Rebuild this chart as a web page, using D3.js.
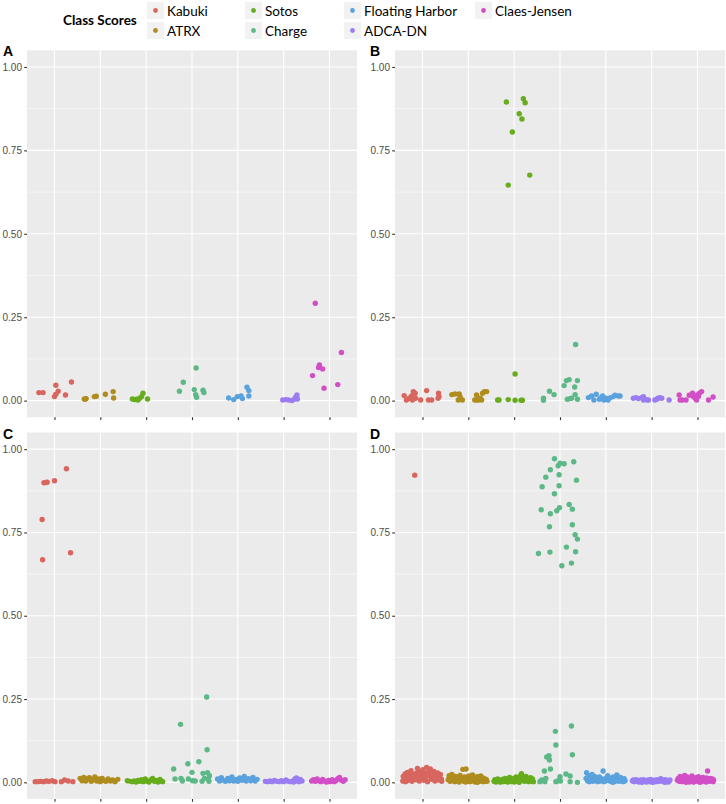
<!DOCTYPE html>
<html><head><meta charset="utf-8">
<script src="https://cdn.jsdelivr.net/npm/d3@7"></script>
<style>body{margin:0;background:#fff}svg{display:block}</style>
</head><body><div id="chart"></div>
<script>
// ---------- DATA ----------
const classes = ["Kabuki","ATRX","Sotos","Charge","Floating Harbor","ADCA-DN","Claes-Jensen"];
const classColors = ["#D8665E","#AE8C1E","#66AC1C","#5CB886","#5AA2DE","#9B7DF2","#D24EC6"];
const yTicks = [0, 0.25, 0.5, 0.75, 1.0];
const yMinor = [0.125, 0.375, 0.625, 0.875];
const panelLabels = ["A","B","C","D"];
const legendTitle = "Class Scores";

// each point: [jitter (in category units), score]
const aKabuki = [[-0.34,0.024],[-0.25,0.024],[0.03,0.046],[0.00,0.012],[0.03,0.019],[0.08,0.028],[0.24,0.017],[0.37,0.056]];
const aATRX = [[-0.35,0.005],[-0.31,0.006],[-0.13,0.012],[-0.09,0.013],[0.11,0.019],[0.28,0.027],[0.29,0.008],[-0.33,0.004]];
const aSotos = [[-0.30,0.005],[-0.25,0.003],[-0.21,0.004],[-0.18,0.002],[-0.14,0.007],[-0.10,0.012],[-0.07,0.022],[0.03,0.005]];
const aCharge = [[-0.275,0.028],[-0.19,0.055],[0.05,0.033],[0.09,0.098],[0.08,0.018],[0.10,0.010],[0.24,0.031],[0.26,0.024]];
const aFloating = [[-0.20,0.008],[-0.09,0.003],[-0.01,0.012],[0.07,0.014],[0.10,0.006],[0.20,0.040],[0.24,0.030],[0.24,0.014]];
const aADCA = [[-0.02,0.002],[0.05,0.003],[0.11,0.002],[0.18,0.000],[0.23,0.004],[0.26,0.010],[0.29,0.017],[0.30,0.005]];
const aClaes = [[-0.31,0.292],[-0.37,0.075],[-0.24,0.099],[-0.22,0.107],[-0.15,0.095],[-0.12,0.037],[0.18,0.048],[0.26,0.144]];

const bKabuki = [[-0.40,0.015],[-0.35,0.002],[-0.29,0.007],[-0.24,0.014],[-0.20,0.027],[-0.16,0.022],[-0.22,0.002],[-0.15,0.007],[-0.04,0.002],[0.09,0.030],[0.13,0.002],[0.20,0.002],[0.35,0.022],[0.36,0.012],[0.34,0.007]];
const bATRX = [[-0.36,0.018],[-0.29,0.020],[-0.20,0.020],[-0.22,0.002],[-0.13,0.002],[0.14,0.002],[0.18,0.017],[0.22,0.002],[0.29,0.002],[0.31,0.022],[0.35,0.027],[0.40,0.027],[0.26,0.007],[0.18,0.002],[-0.18,0.012]];
const bSotos = [[-0.17,0.895],[0.20,0.905],[0.24,0.893],[0.11,0.860],[0.17,0.844],[-0.04,0.805],[0.34,0.676],[-0.13,0.646],[-0.36,0.002],[-0.33,0.002],[-0.13,0.003],[0.02,0.080],[0.02,0.001],[0.15,0.001],[0.18,0.001]];
const bCharge = [[-0.36,0.007],[-0.36,0.001],[-0.23,0.028],[-0.13,0.018],[0.09,0.045],[0.14,0.060],[0.20,0.063],[0.16,0.004],[0.25,0.007],[0.32,0.041],[0.33,0.018],[0.38,0.060],[0.34,0.168],[0.38,0.004],[0.22,0.006]];
const bFloating = [[-0.38,0.009],[-0.31,0.014],[-0.26,0.002],[-0.21,0.019],[-0.14,0.004],[-0.11,0.009],[-0.07,0.014],[-0.04,0.002],[0.00,0.007],[0.05,0.002],[0.10,0.009],[0.16,0.012],[0.20,0.016],[0.27,0.014],[0.31,0.014]];
const bADCA = [[-0.40,0.007],[-0.34,0.009],[-0.29,0.006],[-0.22,0.009],[-0.18,0.012],[-0.15,0.004],[-0.10,0.002],[-0.07,0.002],[0.07,0.002],[0.11,0.004],[0.14,0.007],[0.18,0.009],[0.22,0.007],[0.38,0.002],[-0.18,0.002]];
const bClaes = [[-0.40,0.017],[-0.38,0.002],[-0.33,0.002],[-0.25,0.002],[-0.18,0.016],[-0.11,0.022],[-0.05,0.007],[-0.02,0.002],[0.00,0.017],[0.04,0.022],[0.09,0.027],[0.02,0.012],[0.24,0.002],[0.34,0.011],[-0.09,0.012]];

const cKabuki = [[-0.27,0.789],[-0.26,0.668],[-0.23,0.899],[-0.18,0.900],[-0.16,0.901],[0.00,0.905],[0.26,0.941],[0.35,0.689],
  [-0.42,0.002],[-0.36,0.002],[-0.30,0.003],[-0.24,0.002],[-0.18,0.004],[-0.12,0.003],[-0.05,0.005],[0.01,0.002],[0.15,0.002],[0.22,0.007],[0.30,0.004],[0.40,0.002]];
const cATRX = [[-0.44,0.012],[-0.40,0.005],[-0.36,0.015],[-0.32,0.004],[-0.28,0.010],[-0.24,0.014],[-0.20,0.003],[-0.16,0.008],[-0.12,0.016],[-0.08,0.004],[-0.04,0.010],[0.00,0.002],[0.04,0.012],[0.08,0.006],[0.12,0.003],[0.17,0.010],[0.22,0.004],[0.27,0.007],[0.32,0.002],[0.38,0.009]];
const cSotos = [[-0.41,0.005],[-0.30,0.002],[-0.26,0.004],[-0.22,0.001],[-0.18,0.006],[-0.14,0.003],[-0.10,0.008],[-0.06,0.002],[-0.02,0.010],[0.02,0.004],[0.06,0.001],[0.10,0.007],[0.14,0.012],[0.18,0.003],[0.22,0.006],[0.26,0.001],[0.30,0.009],[0.33,0.004],[0.36,0.002],[-0.34,0.003]];
const cCharge = [[-0.40,0.040],[-0.37,0.010],[-0.25,0.174],[-0.24,0.012],[-0.21,0.004],[-0.09,0.056],[-0.08,0.010],[0.00,0.030],[0.01,0.005],[0.07,0.004],[0.15,0.062],[0.22,0.003],[0.24,0.027],[0.27,0.012],[0.32,0.256],[0.33,0.098],[0.34,0.029],[0.38,0.020],[0.36,0.010],[0.37,0.003]];
const cFloating = [[-0.44,0.010],[-0.40,0.004],[-0.36,0.014],[-0.32,0.006],[-0.27,0.003],[-0.22,0.012],[-0.18,0.005],[-0.13,0.016],[-0.09,0.004],[-0.05,0.009],[0.00,0.003],[0.04,0.013],[0.09,0.006],[0.14,0.018],[0.18,0.004],[0.23,0.011],[0.28,0.005],[0.33,0.015],[0.38,0.004],[0.42,0.009]];
const cADCA = [[-0.40,0.003],[-0.35,0.002],[-0.30,0.004],[-0.25,0.002],[-0.20,0.006],[-0.15,0.003],[-0.10,0.002],[-0.05,0.005],[0.00,0.002],[0.05,0.007],[0.10,0.003],[0.15,0.002],[0.20,0.004],[0.25,0.011],[0.28,0.013],[0.30,0.005],[0.33,0.002],[0.36,0.009],[0.40,0.004],[0.22,0.001]];
const cClaes = [[-0.39,0.004],[-0.35,0.008],[-0.31,0.003],[-0.27,0.010],[-0.23,0.005],[-0.19,0.002],[-0.15,0.009],[-0.11,0.004],[-0.07,0.001],[-0.02,0.006],[0.02,0.003],[0.06,0.008],[0.10,0.002],[0.14,0.005],[0.18,0.011],[0.22,0.015],[0.26,0.006],[0.30,0.003],[0.34,0.008],[0.00,0.002]];

const dKabuki = [[-0.17,0.922],
  [-0.43,0.004],[-0.42,0.018],[-0.40,0.010],[-0.38,0.025],[-0.37,0.002],[-0.35,0.014],[-0.33,0.030],[-0.31,0.006],[-0.29,0.020],[-0.27,0.012],[-0.25,0.035],[-0.23,0.003],[-0.21,0.024],[-0.19,0.016],[-0.15,0.008],[-0.13,0.028],[-0.11,0.042],[-0.09,0.019],[-0.07,0.004],[-0.05,0.033],[-0.03,0.011],[-0.01,0.023],[0.01,0.038],[0.03,0.006],[0.05,0.027],[0.07,0.015],[0.09,0.045],[0.11,0.002],[0.13,0.031],[0.15,0.020],[0.17,0.040],[0.19,0.009],[0.21,0.025],[0.23,0.014],[0.25,0.033],[0.27,0.004],[0.29,0.022],[0.31,0.012],[0.33,0.028],[0.35,0.007],[0.37,0.019],[0.39,0.024],[0.41,0.010],[0.42,0.003]];
const dATRX = [[-0.44,0.008],[-0.42,0.020],[-0.40,0.003],[-0.38,0.015],[-0.36,0.024],[-0.34,0.006],[-0.32,0.012],[-0.30,0.002],[-0.28,0.018],[-0.26,0.009],[-0.24,0.004],[-0.22,0.014],[-0.20,0.001],[-0.18,0.021],[-0.16,0.007],[-0.14,0.011],[-0.12,0.039],[-0.10,0.003],[-0.08,0.016],[-0.05,0.040],[-0.03,0.010],[-0.01,0.005],[0.01,0.019],[0.03,0.002],[0.05,0.013],[0.07,0.008],[0.09,0.022],[0.11,0.004],[0.13,0.015],[0.15,0.001],[0.17,0.010],[0.19,0.017],[0.21,0.006],[0.23,0.012],[0.25,0.003],[0.27,0.019],[0.29,0.008],[0.31,0.014],[0.33,0.002],[0.35,0.011],[0.37,0.005],[0.39,0.009],[0.41,0.003],[0.20,0.000],[-0.06,0.001]];
const dSotos = [[-0.44,0.003],[-0.42,0.008],[-0.40,0.001],[-0.38,0.005],[-0.36,0.010],[-0.34,0.002],[-0.32,0.006],[-0.30,0.001],[-0.28,0.004],[-0.26,0.009],[-0.24,0.002],[-0.22,0.005],[-0.20,0.012],[-0.18,0.003],[-0.16,0.007],[-0.14,0.001],[-0.12,0.004],[-0.10,0.015],[-0.08,0.002],[-0.06,0.008],[-0.04,0.003],[-0.02,0.011],[0.00,0.001],[0.02,0.006],[0.04,0.016],[0.06,0.003],[0.08,0.009],[0.10,0.002],[0.12,0.013],[0.14,0.020],[0.16,0.026],[0.18,0.007],[0.20,0.015],[0.22,0.003],[0.24,0.010],[0.26,0.018],[0.28,0.005],[0.30,0.012],[0.32,0.002],[0.34,0.008],[0.36,0.014],[0.38,0.004],[0.40,0.010],[0.42,0.002],[0.11,0.000]];
const dCharge = [[-0.12,0.971],[-0.21,0.938],[-0.31,0.916],[-0.39,0.887],[-0.04,0.950],[0.00,0.958],[0.09,0.956],[0.30,0.962],[-0.02,0.923],[0.36,0.907],[-0.02,0.890],[-0.12,0.866],[0.20,0.834],[-0.41,0.818],[-0.01,0.824],[-0.07,0.815],[0.27,0.820],[-0.21,0.806],[-0.23,0.767],[0.27,0.773],[0.33,0.743],[0.38,0.730],[0.14,0.706],[-0.47,0.687],[-0.22,0.691],[0.34,0.692],[0.25,0.658],[0.04,0.650],
  [-0.10,0.153],[0.25,0.169],[-0.09,0.112],[-0.29,0.076],[-0.24,0.080],[-0.23,0.067],[-0.21,0.040],[-0.34,0.034],[0.27,0.083],[-0.40,0.007],[-0.33,0.002],[0.00,0.017],[-0.04,0.005],[0.13,0.025],[0.22,0.019],[0.22,0.002],[0.38,0.000],[-0.09,0.002],[-0.44,0.002],[-0.31,0.012],[0.01,0.004]];
const dFloating = [[-0.43,0.012],[-0.42,0.029],[-0.40,0.005],[-0.38,0.020],[-0.36,0.002],[-0.34,0.015],[-0.32,0.008],[-0.30,0.024],[-0.28,0.003],[-0.26,0.011],[-0.24,0.018],[-0.22,0.006],[-0.20,0.013],[-0.18,0.002],[-0.16,0.009],[-0.14,0.016],[-0.12,0.004],[-0.10,0.011],[-0.08,0.007],[-0.06,0.034],[-0.04,0.002],[-0.02,0.010],[0.00,0.005],[0.02,0.013],[0.04,0.020],[0.06,0.014],[0.08,0.008],[0.10,0.003],[0.12,0.012],[0.14,0.006],[0.16,0.016],[0.18,0.002],[0.20,0.010],[0.22,0.005],[0.24,0.022],[0.26,0.012],[0.28,0.003],[0.30,0.009],[0.32,0.015],[0.34,0.004],[0.36,0.008],[0.38,0.002],[0.40,0.011],[0.42,0.005],[0.15,0.000]];
const dADCA = [[-0.42,0.004],[-0.40,0.007],[-0.38,0.002],[-0.36,0.005],[-0.34,0.008],[-0.32,0.003],[-0.30,0.006],[-0.28,0.001],[-0.26,0.004],[-0.24,0.007],[-0.22,0.002],[-0.20,0.005],[-0.18,0.008],[-0.16,0.003],[-0.14,0.006],[-0.12,0.001],[-0.10,0.004],[-0.08,0.007],[-0.06,0.002],[-0.04,0.005],[-0.02,0.009],[0.00,0.003],[0.02,0.006],[0.04,0.001],[0.06,0.004],[0.08,0.007],[0.10,0.002],[0.12,0.005],[0.14,0.008],[0.16,0.003],[0.18,0.006],[0.20,0.011],[0.22,0.004],[0.24,0.007],[0.26,0.002],[0.28,0.005],[0.30,0.008],[0.32,0.003],[0.34,0.006],[0.36,0.001],[0.38,0.004],[0.40,0.007],[0.01,0.000],[-0.21,0.000],[0.29,0.000]];
const dClaes = [[-0.44,0.006],[-0.42,0.012],[-0.40,0.003],[-0.38,0.018],[-0.36,0.008],[-0.34,0.002],[-0.32,0.014],[-0.30,0.005],[-0.28,0.021],[-0.26,0.010],[-0.24,0.003],[-0.22,0.016],[-0.20,0.007],[-0.18,0.001],[-0.16,0.012],[-0.14,0.005],[-0.12,0.019],[-0.10,0.008],[-0.08,0.002],[-0.06,0.014],[-0.04,0.006],[-0.02,0.010],[0.00,0.003],[0.02,0.017],[0.04,0.007],[0.06,0.012],[0.08,0.002],[0.10,0.009],[0.12,0.015],[0.14,0.004],[0.16,0.011],[0.18,0.006],[0.20,0.013],[0.22,0.034],[0.24,0.008],[0.26,0.003],[0.28,0.012],[0.30,0.006],[0.32,0.010],[0.34,0.002],[0.35,0.007],[0.05,0.000],[-0.25,0.000],[0.19,0.001],[-0.09,0.001]];

const panelData = [
  [aKabuki,aATRX,aSotos,aCharge,aFloating,aADCA,aClaes],
  [bKabuki,bATRX,bSotos,bCharge,bFloating,bADCA,bClaes],
  [cKabuki,cATRX,cSotos,cCharge,cFloating,cADCA,cClaes],
  [dKabuki,dATRX,dSotos,dCharge,dFloating,dADCA,dClaes]
];

// ---------- LAYOUT ----------
const W = 726, H = 804;
const panels = [
  {x0:27,  x1:357, y0:50.3,  y1:417.3},
  {x0:395, x1:725, y0:50.3,  y1:417.3},
  {x0:27,  x1:357, y0:432.5, y1:799},
  {x0:395, x1:725, y0:432.5, y1:799}
];
const svg = d3.select("#chart").append("svg").attr("width",W).attr("height",H);
const axisFont = "'Liberation Sans', Arial, sans-serif";
const legendFont = "Lato, 'Open Sans', sans-serif";

panels.forEach((p,pi)=>{
  const g = svg.append("g");
  const x = d3.scalePoint().domain(classes).range([p.x0,p.x1]).padding(0.6);
  const y = d3.scaleLinear().domain([-0.05,1.05]).range([p.y1,p.y0]);
  const step = x.step();
  g.append("rect").attr("x",p.x0).attr("y",p.y0).attr("width",p.x1-p.x0).attr("height",p.y1-p.y0).attr("fill","#EBEBEB");
  g.selectAll(".minor").data(yMinor).join("line")
    .attr("x1",p.x0).attr("x2",p.x1).attr("y1",d=>y(d)).attr("y2",d=>y(d))
    .attr("stroke","#fff").attr("stroke-width",0.55);
  g.selectAll(".majy").data(yTicks).join("line")
    .attr("x1",p.x0).attr("x2",p.x1).attr("y1",d=>y(d)).attr("y2",d=>y(d))
    .attr("stroke","#fff").attr("stroke-width",1.1);
  g.selectAll(".majx").data(classes).join("line")
    .attr("x1",d=>x(d)).attr("x2",d=>x(d)).attr("y1",p.y0).attr("y2",p.y1)
    .attr("stroke","#fff").attr("stroke-width",1.1);

  const ya = g.append("g").attr("transform",`translate(${p.x0},0)`)
    .call(d3.axisLeft(y).tickValues(yTicks).tickFormat(d3.format(".2f")).tickSize(2.8).tickPadding(2.2));
  ya.select(".domain").remove();
  ya.selectAll("line").attr("stroke","#333").attr("stroke-width",1.1);
  ya.selectAll("text").attr("fill","#4D4D4D").style("font-family",axisFont).style("font-size","10px");
  const xa = g.append("g").attr("transform",`translate(0,${p.y1})`)
    .call(d3.axisBottom(x).tickFormat("").tickSize(2.8));
  xa.select(".domain").remove();
  xa.selectAll("line").attr("stroke","#333").attr("stroke-width",1.1);

  panelData[pi].forEach((pts,ci)=>{
    g.append("g").selectAll("circle").data(pts).join("circle")
      .attr("cx",d=>x(classes[ci]) + d[0]*step)
      .attr("cy",d=>y(d[1]))
      .attr("r",2.7)
      .attr("fill",classColors[ci]);
  });

  svg.append("text").attr("x", pi%2===0 ? 3 : 370).attr("y", p.y0+6)
    .style("font-family",axisFont).style("font-weight","bold").style("font-size","14px")
    .attr("fill","#000").text(panelLabels[pi]);
});

// ---------- LEGEND ----------
const lg = svg.append("g");
lg.append("text").attr("x",63).attr("y",25).style("font-family",legendFont)
  .style("font-weight","bold").style("font-size","13.5px").attr("fill","#000").text(legendTitle);
const colX = [147, 245, 344, 475];
classes.forEach((c,i)=>{
  const col = Math.floor(i/2), row = i%2;
  const kx = colX[col], ky = 2 + row*20;
  lg.append("rect").attr("x",kx).attr("y",ky).attr("width",17).attr("height",17).attr("fill","#F2F2F2");
  lg.append("circle").attr("cx",kx+8.5).attr("cy",ky+8.5).attr("r",2.4).attr("fill",classColors[i]);
  lg.append("text").attr("x",kx+20).attr("y",ky+13.5).style("font-family",legendFont)
    .style("font-size","13.5px").attr("fill","#000").text(c);
});
</script></body></html>
